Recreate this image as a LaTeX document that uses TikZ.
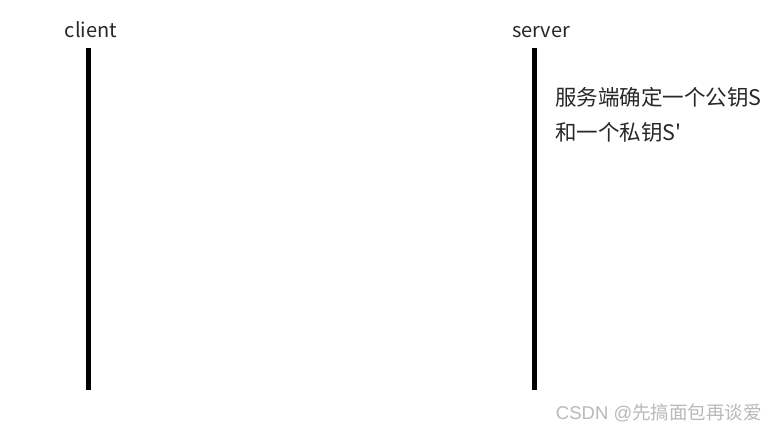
\documentclass[tikz,border=0pt]{standalone}
\usepackage{fontspec}
\setmainfont{Noto Sans CJK SC}
\newfontfamily\cjk{Noto Sans CJK SC}
\newfontfamily\markfont{Liberation Sans}
\definecolor{txt}{RGB}{40,40,40}
\definecolor{wm}{RGB}{185,185,185}
\tikzset{
  lifeline/.style={line width=5pt},
  actor/.style={text=txt, font=\fontsize{20}{20}\selectfont, inner sep=0pt, anchor=base},
  note/.style={text=txt, font=\cjk\fontsize{21.5}{35}\selectfont, inner sep=0pt, align=left, anchor=west},
}

\begin{document}
\begin{tikzpicture}[x=1pt, y=-1pt]
    \useasboundingbox (0,0) rectangle (776,433);
    \fill[white] (0,0) rectangle (776,433);
    % actors
    \node[actor] (client) at (91,38) {client};
    \node[actor] (server) at (541,38) {server};
    % lifelines
    \coordinate (c top) at (88,48);
    \coordinate (c bot) at (88,390);
    \coordinate (s top) at (534,48);
    \coordinate (s bot) at (534,390);
    \draw[lifeline] (c top) -- (c bot);
    \draw[lifeline] (s top) -- (s bot);
    % key pair
    \node[note] (keys) at (555,115) {服务端确定一个公钥S\\和一个私钥S'};
    % watermark
    \node[text=wm, inner sep=0pt, anchor=east, font=\fontsize{18.5}{18.5}\selectfont] (mark) at (762,413) {{\markfont CSDN @}先搞面包再谈爱};
  \end{tikzpicture}
\end{document}
